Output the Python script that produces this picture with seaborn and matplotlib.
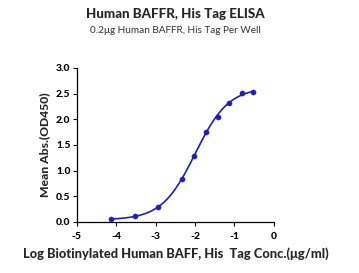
import numpy as np
import pandas as pd
import matplotlib
matplotlib.use("Agg")
import matplotlib.pyplot as plt
import seaborn as sns

# Data
log_conc = [-4.13, -3.53, -2.93, -2.33, -2.03, -1.73, -1.43, -1.13, -0.82, -0.52]
od450 = [0.06, 0.11, 0.29, 0.84, 1.29, 1.75, 2.05, 2.32, 2.51, 2.53]

title = "Human BAFFR, His Tag ELISA"
subtitle = "0.2\u03bcg Human BAFFR, His Tag Per Well"
xlabel = "Log Biotinylated Human BAFF, His  Tag Conc.(\u03bcg/ml)"
ylabel = "Mean Abs.(OD450)"
xticks = [-5, -4, -3, -2, -1, 0]
yticks = [0.0, 0.5, 1.0, 1.5, 2.0, 2.5, 3.0]

df = pd.DataFrame({"x": log_conc, "y": od450})

# 4-parameter logistic fit (Levenberg-Marquardt) from the data points
def f4(p, x):
    b, t, c, h = p
    return b + (t - b) / (1 + 10 ** ((c - x) * h))

x = np.array(log_conc)
y = np.array(od450)
p = np.array([0.0, 2.6, -2.0, 1.0])
lam = 1e-3
for _ in range(500):
    r = y - f4(p, x)
    J = np.zeros((len(x), 4))
    for k in range(4):
        dp = np.zeros(4); dp[k] = 1e-6
        J[:, k] = (f4(p + dp, x) - f4(p - dp, x)) / 2e-6
    A = J.T @ J
    step = np.linalg.solve(A + lam * np.diag(np.diag(A)), J.T @ r)
    pn = p + step
    if np.sum((y - f4(pn, x)) ** 2) < np.sum(r ** 2):
        p = pn; lam *= 0.5
    else:
        lam *= 2
xs = np.linspace(x.min(), x.max(), 300)
fit = pd.DataFrame({"x": xs, "y": f4(p, xs)})

sns.set_style("ticks")
plt.rcParams["font.family"] = ["Lato", "DejaVu Sans"]

fig = plt.figure(figsize=(3.59, 2.73), dpi=100)
ax = fig.add_axes([0.214, 0.187, 0.549, 0.564])
color = "#1f1fb4"
sns.lineplot(data=fit, x="x", y="y", ax=ax, color=color, linewidth=1.2)
sns.scatterplot(data=df, x="x", y="y", ax=ax, color=color, s=14, edgecolor=color, zorder=3)

ax.set_xlim(-5, 0)
ax.set_ylim(0, 3.0)
ax.set_xticks(xticks)
ax.set_yticks(yticks)
ax.set_xticklabels([str(t) for t in xticks], fontsize=7.5, fontweight="black")
ax.set_yticklabels([f"{t:.1f}" for t in yticks], fontsize=7.5, fontweight="black")
ax.tick_params(axis="both", length=3, width=0.8, colors="black")
ax.tick_params(axis="x", pad=4)
ax.tick_params(axis="y", pad=1.5)
sns.despine(ax=ax)
for s in ["left", "bottom"]:
    ax.spines[s].set_linewidth(0.9)
    ax.spines[s].set_color("black")

ax.set_xlabel(xlabel, fontsize=9.3, fontweight="black", labelpad=5)
ax.set_ylabel(ylabel, fontsize=8.7, fontweight="black", labelpad=4)

fig.text(0.488, 0.950, title, ha="center", va="center", fontsize=9.6, fontweight="black")
fig.text(0.488, 0.890, subtitle, ha="center", va="center", fontsize=7.2, color="#333333")

fig.savefig("out.png", dpi=100)
